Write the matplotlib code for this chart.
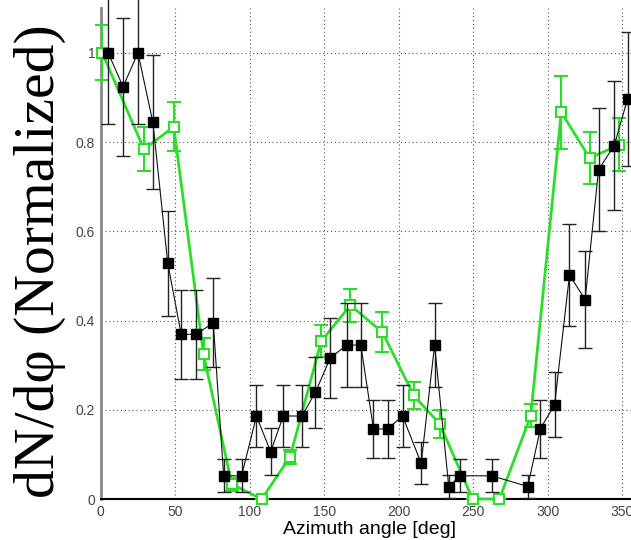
import matplotlib
matplotlib.use("Agg")
import matplotlib.pyplot as plt

# Black series (filled squares)
black_x = [5, 15, 25, 35, 45, 54, 64, 75.5, 82.5, 94.5, 104.5, 114, 122.5, 135,
           144, 154, 165, 174.5, 183, 192.5, 202.5, 215, 224, 233.5, 241, 262.5,
           286.5, 295, 304.5, 314.5, 325, 334, 344.5, 353.5]
black_y = [1.0, 0.924, 1.0, 0.844, 0.528, 0.369, 0.369, 0.395, 0.052, 0.052, 0.186,
           0.106, 0.186, 0.186, 0.239, 0.316, 0.345, 0.345, 0.157, 0.157, 0.186,
           0.080, 0.345, 0.028, 0.052, 0.052, 0.028, 0.158, 0.211, 0.502, 0.447,
           0.738, 0.792, 0.897]
black_err = [0.16, 0.155, 0.16, 0.15, 0.118, 0.10, 0.10, 0.10, 0.037, 0.037, 0.07,
             0.053, 0.07, 0.07, 0.08, 0.09, 0.095, 0.095, 0.064, 0.064, 0.07,
             0.047, 0.095, 0.025, 0.037, 0.037, 0.025, 0.065, 0.073, 0.115, 0.108,
             0.138, 0.145, 0.15]

# Green series (open squares)
green_x = [1, 29, 49, 69, 88, 108, 127, 148, 167.5, 189, 210, 227.5, 249.5, 267.5,
           288.5, 309, 328, 348]
green_y = [1.0, 0.784, 0.834, 0.324, 0.033, 0.0, 0.094, 0.354, 0.434, 0.374, 0.232,
           0.168, 0.0, 0.0, 0.187, 0.867, 0.764, 0.794]
green_err = [0.062, 0.05, 0.055, 0.036, 0.015, 0.0, 0.016, 0.035, 0.037, 0.045,
             0.031, 0.032, 0.0, 0.0, 0.025, 0.082, 0.059, 0.06]

x_ticks = [0, 50, 100, 150, 200, 250, 300, 350]
y_ticks = [0, 0.2, 0.4, 0.6, 0.8, 1.0]
y_tick_labels = ["0", "0.2", "0.4", "0.6", "0.8", "1"]

fig = plt.figure(figsize=(6.31, 5.40), dpi=100)
ax = fig.add_axes([0.1596, 0.0759, 0.8504, 0.909])

green = "#2ade2a"
ax.errorbar(green_x, green_y, yerr=green_err, color=green, lw=2.0, elinewidth=1.5,
            capsize=5, capthick=1.5, marker="s", ms=7, mfc="white", mec=green,
            mew=1.5, zorder=3, clip_on=False)
ax.errorbar(black_x, black_y, yerr=black_err, color="#111111", lw=0.8, elinewidth=1.0,
            ecolor="#222222", capsize=5, capthick=1.0, marker="s", ms=7,
            mfc="black", mec="black", zorder=4, clip_on=False)

ax.set_xlim(0, 360)
ax.set_ylim(0, 1.1)
ax.set_xticks(x_ticks)
ax.set_yticks(y_ticks)
ax.set_yticklabels(y_tick_labels)
ax.grid(True, color="#555555", linestyle=(0, (1, 2.5)), linewidth=0.8)
ax.set_axisbelow(True)
ax.tick_params(length=0, labelsize=10, labelcolor="#444444", pad=4)
for lab in ax.get_xticklabels() + ax.get_yticklabels():
    lab.set_fontfamily("Liberation Sans")

ax.spines["top"].set_visible(False)
ax.spines["right"].set_visible(False)
ax.spines["left"].set_color("#888888")
ax.spines["left"].set_linewidth(2)
ax.spines["bottom"].set_color("black")
ax.spines["bottom"].set_linewidth(1.5)

ax.set_xlabel("Azimuth angle [deg]", fontsize=14, family="Liberation Sans",
              labelpad=2)
fig.text(40 / 631, 1 - 261 / 540, "dN/dφ (Normalized)", rotation=90,
         ha="center", va="center", fontsize=41.5,
         family=["Liberation Serif", "DejaVu Serif"])

fig.savefig("out.png", dpi=100)
